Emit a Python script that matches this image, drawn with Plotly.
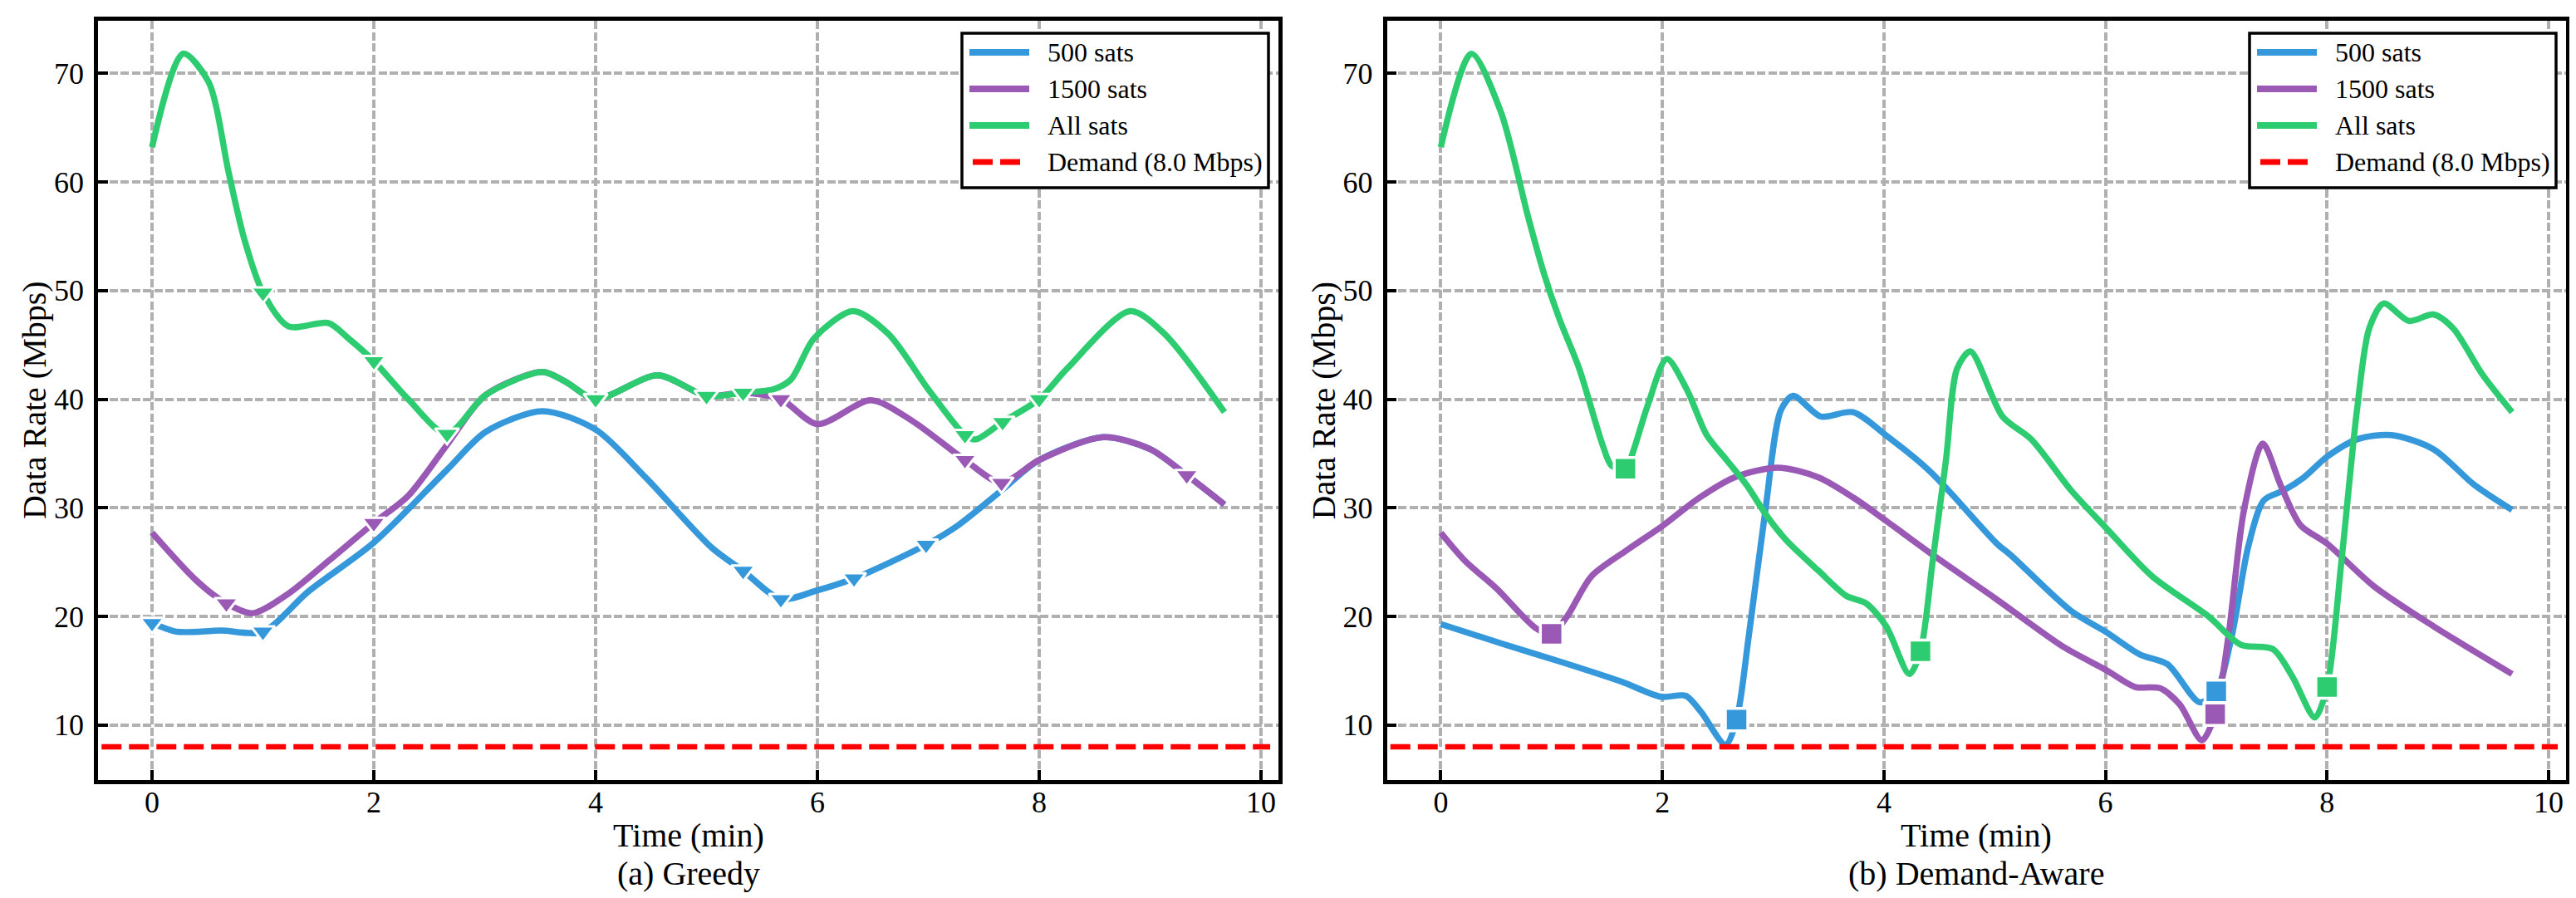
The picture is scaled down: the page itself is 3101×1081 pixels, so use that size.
import plotly.graph_objects as go

# ---------------- data (Time in min, Data Rate in Mbps) ----------------
demand = 8.0

# (a) Greedy
greedy_t_500 = [0, 0.22, 0.62, 1.0, 1.41, 2.0, 2.66, 3.01, 3.52, 4.0, 4.45, 5.05, 5.33, 5.67, 6.0, 6.33,
                6.98, 7.27, 7.66, 8.0, 8.58, 9.0, 9.33, 9.67]
greedy_500 = [19.4, 18.6, 18.7, 18.6, 22.3, 26.8, 33.5, 37.0, 38.9, 37.2, 32.8, 26.3, 24.2, 21.6, 22.4, 23.5,
              26.6, 28.4, 31.6, 34.4, 36.5, 35.4, 33.0, 30.3]
greedy_t_1500 = [0, 0.40, 0.67, 0.91, 1.23, 1.59, 2.0, 2.31, 2.66, 3.01, 3.52, 3.73, 4.0, 4.56, 5.0, 5.33,
                 5.67, 6.0, 6.48, 6.84, 7.33, 7.66, 8.0, 8.58, 9.0, 9.33, 9.67]
greedy_1500 = [27.7, 23.3, 21.2, 20.3, 22.1, 25.1, 28.6, 31.1, 35.8, 40.4, 42.5, 41.6, 40.0, 42.2, 40.3, 40.6,
               40.0, 37.7, 39.9, 38.1, 34.4, 32.3, 34.4, 36.5, 35.4, 33.0, 30.3]
greedy_t_all = [0, 0.28, 0.51, 0.69, 0.83, 1.0, 1.23, 1.59, 1.77, 2.0, 2.31, 2.66, 3.01, 3.52, 3.73, 4.0,
                4.56, 5.0, 5.33, 5.6, 5.76, 5.97, 6.32, 6.64, 7.0, 7.33, 7.43, 7.67, 8.0, 8.25, 8.82, 9.13, 9.67]
greedy_all = [63.2, 71.8, 69.2, 60.9, 54.8, 49.8, 46.7, 47.0, 45.6, 43.5, 40.0, 36.8, 40.4, 42.5, 41.6, 40.0,
              42.2, 40.3, 40.6, 40.9, 41.8, 45.6, 48.1, 46.0, 40.9, 36.7, 36.3, 37.9, 40.0, 42.8, 48.1, 46.0, 38.8]

# handover markers (greedy)
greedy_ho_t_500 = [0, 1.0, 5.33, 5.67, 6.33, 6.98]
greedy_ho_500 = [19.4, 18.6, 24.2, 21.6, 23.5, 26.6]
greedy_ho_t_1500 = [0.67, 2.0, 5.67, 7.33, 7.66, 9.33]
greedy_ho_1500 = [21.2, 28.6, 40.0, 34.4, 32.3, 33.0]
greedy_ho_t_all = [1.0, 2.0, 2.66, 4.0, 5.0, 5.33, 7.33, 7.67, 8.0]
greedy_ho_all = [49.8, 43.5, 36.8, 40.0, 40.3, 40.6, 36.7, 37.9, 40.0]

# (b) Demand-Aware
aware_t_500 = [0, 0.55, 1.09, 1.63, 1.99, 2.21, 2.35, 2.57, 2.67, 2.78, 2.93, 3.07, 3.18, 3.43, 3.72, 4.04,
               4.40, 4.6, 5.02, 5.15, 5.69, 6.0, 6.31, 6.56, 6.85, 7.0, 7.14, 7.29, 7.43, 7.61, 7.79, 8.0,
               8.27, 8.58, 8.96, 9.33, 9.67]
aware_500 = [19.3, 17.5, 15.8, 14.0, 12.6, 12.7, 11.2, 8.2, 10.5, 18.2, 29.8, 39.0, 40.3, 38.4, 38.8, 36.5,
             33.5, 31.4, 26.7, 25.6, 20.5, 18.6, 16.5, 15.6, 12.1, 13.1, 18.2, 26.5, 30.7, 31.6, 32.8, 34.7,
             36.3, 36.7, 35.4, 32.1, 29.8]
aware_t_1500 = [0, 0.22, 0.50, 0.86, 1.0, 1.14, 1.36, 1.68, 2.01, 2.33, 2.65, 3.04, 3.41, 3.73, 4.02, 4.45,
                5.0, 5.62, 6.0, 6.27, 6.49, 6.67, 6.87, 6.99, 7.11, 7.25, 7.42, 7.58, 7.76, 8.0, 8.42, 8.96, 9.67]
aware_1500 = [27.7, 25.1, 22.6, 18.9, 18.4, 20.0, 23.7, 26.1, 28.4, 30.9, 32.8, 33.7, 32.8, 30.9, 28.8, 25.6,
              21.7, 17.2, 15.1, 13.5, 13.4, 11.9, 8.6, 11.0, 18.2, 29.8, 35.9, 32.1, 28.4, 26.7, 22.8, 19.1, 14.7]
aware_t_all = [0, 0.276, 0.54, 0.79, 0.93, 1.07, 1.25, 1.46, 1.54, 1.667, 1.72, 1.87, 2.04, 2.22, 2.40, 2.58,
               2.76, 2.94, 3.12, 3.41, 3.66, 3.84, 4.02, 4.23, 4.33, 4.44, 4.56, 4.66, 4.78, 5.07, 5.33, 5.69,
               6.0, 6.42, 6.93, 7.22, 7.51, 7.69, 7.89, 8.0, 8.13, 8.27, 8.38, 8.51, 8.74, 8.96, 9.14, 9.40, 9.67]
aware_all = [63.2, 71.8, 66.5, 56.7, 51.6, 47.4, 42.8, 35.8, 33.9, 33.6, 34.7, 39.5, 43.7, 40.9, 36.7, 34.4,
             32.1, 29.3, 27.0, 24.2, 21.9, 21.2, 19.1, 14.7, 16.8, 25.1, 34.4, 42.8, 44.4, 38.4, 36.3, 31.6,
             28.2, 23.7, 20.0, 17.4, 17.0, 14.4, 10.7, 13.5, 25.1, 39.0, 46.5, 48.8, 47.2, 47.8, 46.5, 42.3, 38.8]

# handover markers (demand-aware)
aware_ho_t_500 = [2.67, 7.0]
aware_ho_500 = [10.5, 13.1]
aware_ho_t_1500 = [1.0, 6.99]
aware_ho_1500 = [18.4, 11.0]
aware_ho_t_all = [1.667, 4.33, 8.0]
aware_ho_all = [33.6, 16.8, 13.5]

series_names = ["500 sats", "1500 sats", "All sats"]
demand_label = "Demand (8.0 Mbps)"
panel_titles = ["(a) Greedy", "(b) Demand-Aware"]
x_ticks = [0, 2, 4, 6, 8, 10]
y_ticks = [10, 20, 30, 40, 50, 60, 70]

# ---------------- style ----------------
W, H = 3101, 1081
FONT = "Liberation Serif"
colors = ["#3498db", "#9b59b6", "#2ecc71"]
RED = "#ff0000"
GRID = "#b0b0b0"

# panel pixel boxes (left, right) ; shared top/bottom
panel_px = [(110, 1531), (1661.5, 3081)]
top_px, bot_px = 17, 931


def px(x):
    return x / W


def py(y):
    return 1 - y / H


fig = go.Figure()

panels = [
    dict(lines=[(greedy_t_500, greedy_500), (greedy_t_1500, greedy_1500), (greedy_t_all, greedy_all)],
         ho=[(greedy_ho_t_500, greedy_ho_500), (greedy_ho_t_1500, greedy_ho_1500), (greedy_ho_t_all, greedy_ho_all)],
         symbol="triangle-down", msize=25, mline=3),
    dict(lines=[(aware_t_500, aware_500), (aware_t_1500, aware_1500), (aware_t_all, aware_all)],
         ho=[(aware_ho_t_500, aware_ho_500), (aware_ho_t_1500, aware_ho_1500), (aware_ho_t_all, aware_ho_all)],
         symbol="square", msize=27, mline=3.5),
]

for i, p in enumerate(panels):
    xa = "x" if i == 0 else "x2"
    ya = "y" if i == 0 else "y2"
    for (t, v), name, c in zip(p["lines"], series_names, colors):
        fig.add_trace(go.Scatter(x=t, y=v, mode="lines", name=name, showlegend=False,
                                 line=dict(color=c, width=7.5, shape="spline", smoothing=0.8),
                                 xaxis=xa, yaxis=ya))
    for (t, v), c in zip(p["ho"], colors):
        fig.add_trace(go.Scatter(x=t, y=v, mode="markers", showlegend=False,
                                 marker=dict(symbol=p["symbol"], size=p["msize"], color=c,
                                             line=dict(color="white", width=p["mline"])),
                                 xaxis=xa, yaxis=ya))
    # demand threshold
    fig.add_shape(type="line", xref=xa + " domain", yref=ya, x0=0.003, x1=0.993, y0=demand, y1=demand,
                  line=dict(color=RED, width=6.5, dash="24px,9px"))

axis_common = dict(showline=True, linecolor="black", linewidth=4.5, mirror=True,
                   ticks="inside", ticklen=12, tickwidth=4, tickcolor="black",
                   showgrid=True, gridcolor=GRID, gridwidth=3.5, griddash="10px,3.5px",
                   zeroline=False, tickfont=dict(family=FONT, size=36, color="black"))

layout = dict(width=W, height=H, margin=dict(l=0, r=0, t=0, b=0),
              plot_bgcolor="white", paper_bgcolor="white", showlegend=False,
              font=dict(family=FONT, color="black"))
for i, (l, r) in enumerate(panel_px):
    sx = "" if i == 0 else "2"
    layout["xaxis" + sx] = dict(axis_common, domain=[px(l), px(r)], range=[-0.487, 10.157],
                                tickvals=x_ticks, anchor="y" + sx, ticklabelstandoff=-9)
    layout["yaxis" + sx] = dict(axis_common, domain=[py(bot_px), py(top_px)], range=[4.94, 74.83],
                                tickvals=y_ticks, anchor="x" + sx, ticklabelstandoff=5)
fig.update_layout(**layout)

# titles
for i, (l, r) in enumerate(panel_px):
    cx = (l + r) / 2
    fig.add_annotation(x=px(cx), y=py(997), xref="paper", yref="paper", text="Time (min)",
                       showarrow=False, font=dict(family=FONT, size=40), xanchor="center", yanchor="middle")
    fig.add_annotation(x=px(cx), y=py(1043), xref="paper", yref="paper", text=panel_titles[i],
                       showarrow=False, font=dict(family=FONT, size=40), xanchor="center", yanchor="middle")
    fig.add_annotation(x=px(l - 77), y=py((top_px + bot_px) / 2), xref="paper", yref="paper",
                       text="Data Rate (Mbps)", textangle=-90, showarrow=False,
                       font=dict(family=FONT, size=40), xanchor="center", yanchor="middle")

# legends (matplotlib-like box in the upper right of each panel)
entry_y = [55, 99, 143, 187]
for i, (l, r) in enumerate(panel_px):
    bl = r - 381
    fig.add_shape(type="rect", xref="paper", yref="paper", x0=px(bl), x1=px(r - 12), y0=py(32), y1=py(218),
                  fillcolor="white", line=dict(color="black", width=3.5), layer="above")
    for k in range(3):
        fig.add_shape(type="line", xref="paper", yref="paper", x0=px(bl + 9), x1=px(bl + 81),
                      y0=py(entry_y[k]), y1=py(entry_y[k]), line=dict(color=colors[k], width=8), layer="above")
    fig.add_shape(type="line", xref="paper", yref="paper", x0=px(bl + 13), x1=px(bl + 71),
                  y0=py(entry_y[3]), y1=py(entry_y[3]), line=dict(color=RED, width=7, dash="24px,9px"),
                  layer="above")
    for k, label in enumerate(series_names + [demand_label]):
        fig.add_annotation(x=px(bl + 101), y=py(entry_y[k]), xref="paper", yref="paper", text=label,
                           showarrow=False, font=dict(family=FONT, size=32), xanchor="left", yanchor="middle")

fig.write_html("out.html")
